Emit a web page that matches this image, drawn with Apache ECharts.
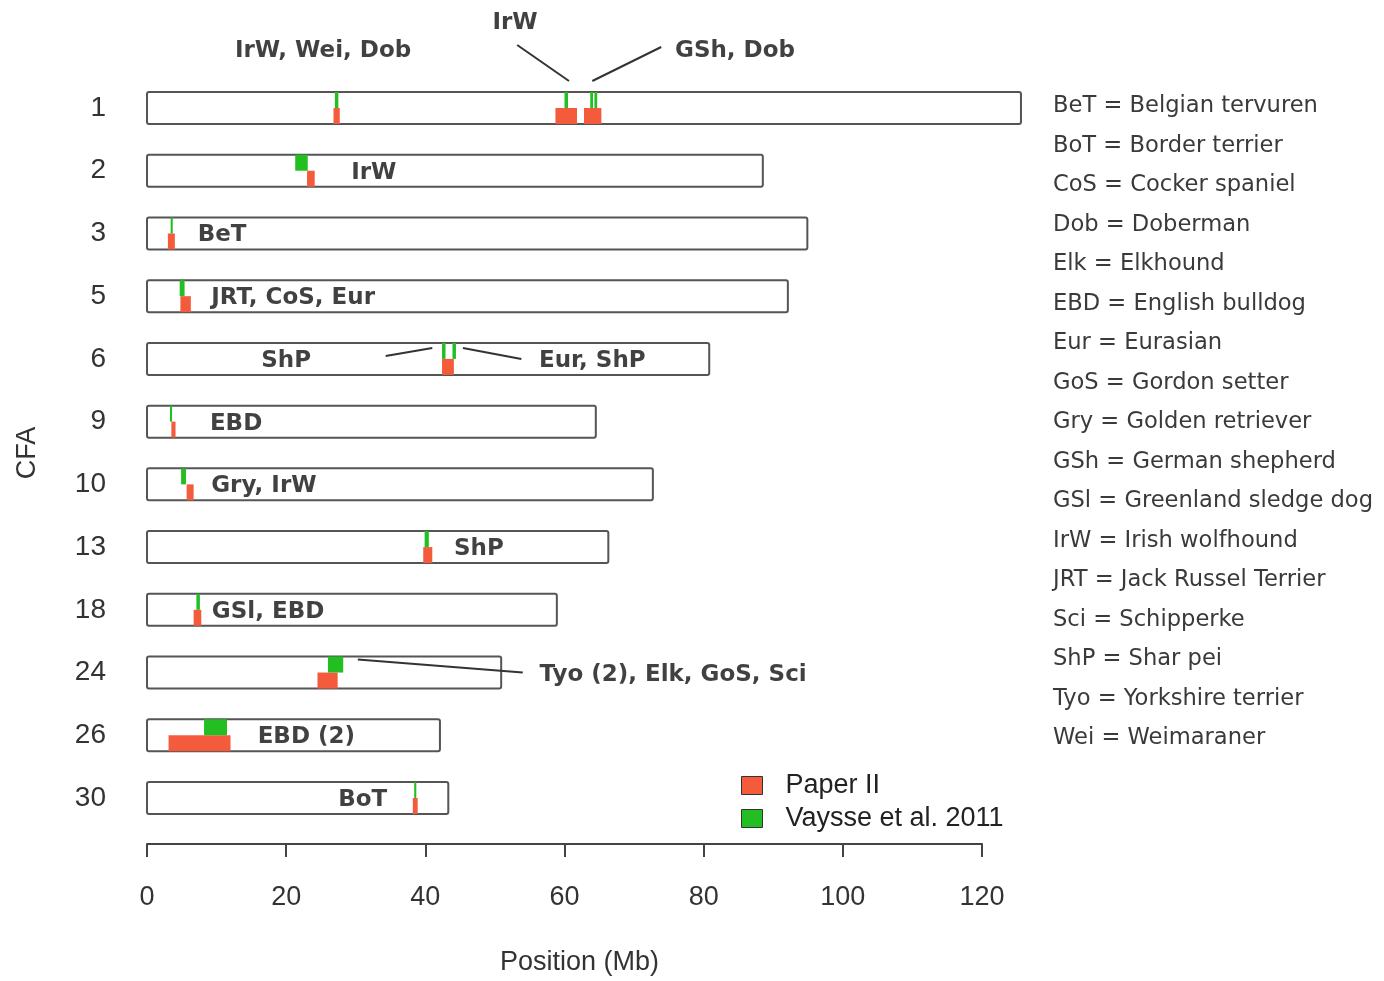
<!DOCTYPE html>
<html><head><meta charset="utf-8">
<script src="https://cdn.jsdelivr.net/npm/echarts@6/dist/echarts.min.js"></script>
<style>html,body{margin:0;padding:0;background:#fff}#c{width:1384px;height:981px}</style>
</head><body><div id="c"></div>
<script>
// ---- data ----
const chromosomes = ['1','2','3','5','6','9','10','13','18','24','26','30'];
const chromLengths = [125.6, 88.5, 94.9, 92.1, 80.8, 64.5, 72.7, 66.3, 58.9, 50.9, 42.1, 43.3];
// Paper II regions: [start Mb, end Mb, row index]
const paperII = [[26.8,27.7,0],[58.7,61.8,0],[62.8,65.3,0],[23.0,24.1,1],[3.0,4.0,2],[4.8,6.3,3],
  [42.4,44.1,4],[3.5,4.1,5],[5.7,6.7,6],[39.7,41.0,7],[6.7,7.8,8],[24.5,27.4,9],[3.1,12.0,10],[38.2,38.9,11]];
// Vaysse et al. 2011 regions: [start Mb, end Mb, row index]
const vaysse = [[27.0,27.5,0],[60.0,60.5,0],[63.7,64.1,0],[64.3,64.7,0],[21.3,23.1,1],[3.4,3.7,2],
  [4.7,5.4,3],[42.4,42.9,4],[43.9,44.4,4],[3.3,3.6,5],[4.9,5.6,6],[39.9,40.5,7],[7.1,7.6,8],
  [26.0,28.2,9],[8.2,11.5,10],[38.4,38.7,11]];
// breed annotations: [text, Mb position of text centre, row index, vertical offset px]
const annoText = ['IrW, Wei, Dob','IrW','GSh, Dob','IrW','BeT','JRT, CoS, Eur','ShP','Eur, ShP','EBD',
  'Gry, IrW','ShP','GSl, EBD','Tyo (2), Elk, GoS, Sci','EBD (2)','BoT'];
const annoPos = [[25.3,0,-59],[52.9,0,-87],[84.5,0,-59],[32.6,1,0],[10.8,2,0],[21.0,3,0],[20.0,4,0],[64.0,4,0],
  [12.8,5,0],[16.8,6,0],[47.7,7,0],[17.4,8,0],[75.6,9,0],[22.9,10,0],[31.0,11,0]];
// leader lines: [x1 Mb, row, dy1 px, x2 Mb, dy2 px]
const leaders = [[53.2,0,-63,60.65,-27],[73.9,0,-61,64.0,-27],[34.3,4,-3,41.0,-11],[45.4,4,-11,53.8,0],[30.3,9,-13,54.0,0]];
const abbreviations = ['BeT = Belgian tervuren','BoT = Border terrier','CoS = Cocker spaniel','Dob = Doberman',
  'Elk = Elkhound','EBD = English bulldog','Eur = Eurasian','GoS = Gordon setter','Gry = Golden retriever',
  'GSh = German shepherd','GSl = Greenland sledge dog','IrW = Irish wolfhound','JRT = Jack Russel Terrier',
  'Sci = Schipperke','ShP = Shar pei','Tyo = Yorkshire terrier','Wei = Weimaraner'];
const xTicks = [0,20,40,60,80,100,120];

// ---- style ----
const RED = '#F45B3C', GREEN = '#22BE22';
const HALF = 16;

const chart = echarts.init(document.getElementById('c'));

function bandRender(color, upper) {
  return function (params, api) {
    const a = api.coord([api.value(0), api.value(2)]);
    const b = api.coord([api.value(1), api.value(2)]);
    const y = upper ? a[1] - HALF : a[1];
    return {type:'rect', shape:{x:a[0], y:y, width:Math.max(b[0]-a[0],2), height:HALF},
      style:{fill:color}, z2: upper ? 3 : 2};
  };
}

const graphics = abbreviations.map((t,i)=>({
  type:'text', left:1053, top: 104 + i*39.5 - 9,
  style:{text:t, font:'22.6px "DejaVu Sans"', fill:'#3a3a3a'}
}));

chart.setOption({
  animation:false,
  backgroundColor:'#fff',
  grid:{left:147, right:402, top:108, bottom:174, containLabel:false},
  xAxis:{type:'value', min:0, max:120, interval:20, offset:46,
    axisLine:{show:true, onZero:false, lineStyle:{color:'#444', width:2}},
    axisTick:{show:true, length:13, lineStyle:{color:'#444', width:2}},
    axisLabel:{margin:40, fontSize:27, fontFamily:'Liberation Sans', color:'#333',
      formatter:(v)=> xTicks.indexOf(v)>=0 ? String(v) : ''},
    splitLine:{show:false},
    name:'Position (Mb)', nameLocation:'middle', nameGap:105,
    nameTextStyle:{fontSize:27, fontFamily:'Liberation Sans', color:'#333', padding:[0,0,0,30]}},
  yAxis:{type:'value', min:0, max:11, interval:1, inverse:true,
    axisLine:{show:false}, axisTick:{show:false}, splitLine:{show:false},
    axisLabel:{margin:41, fontSize:28, fontFamily:'Liberation Sans', color:'#333',
      formatter:(v)=> chromosomes[v] || ''},
    name:'CFA', nameLocation:'middle', nameGap:106, nameRotate:90,
    nameTextStyle:{fontSize:27, fontFamily:'Liberation Sans', color:'#333'}},
  legend:{orient:'vertical', left:741, top:772, padding:0, itemWidth:21, itemHeight:18, itemGap:6,
    icon:'rect', data:['Paper II','Vaysse et al. 2011'],
    itemStyle:{borderColor:'#333', borderWidth:1},
    textStyle:{fontSize:27, lineHeight:18, fontFamily:'Liberation Sans', color:'#222', padding:[0,0,0,18]}},
  graphic: graphics,
  series:[
    {type:'custom', name:'chromosomes', clip:false, z:1,
      data: chromLengths.map((l,i)=>[l,i]),
      renderItem:(params, api)=>{
        const a = api.coord([0, api.value(1)]);
        const b = api.coord([api.value(0), api.value(1)]);
        return {type:'rect', shape:{x:a[0], y:a[1]-HALF, width:b[0]-a[0], height:2*HALF, r:2},
          style:{fill:'#fff', stroke:'#555', lineWidth:2}};
      }},
    {type:'custom', name:'Paper II', clip:false, z:2, itemStyle:{color:RED},
      data: paperII, renderItem: bandRender(RED, false)},
    {type:'custom', name:'Vaysse et al. 2011', clip:false, z:3, itemStyle:{color:GREEN},
      data: vaysse, renderItem: bandRender(GREEN, true)},
    {type:'custom', name:'leaders', clip:false, z:4,
      data: leaders,
      renderItem:(params, api)=>{
        const p1 = api.coord([api.value(0), api.value(1)]);
        const p2 = api.coord([api.value(3), api.value(1)]);
        return {type:'line', shape:{x1:p1[0], y1:p1[1]+api.value(2), x2:p2[0], y2:p2[1]+api.value(4)},
          style:{stroke:'#333', lineWidth:2}};
      }},
    {type:'scatter', name:'annotations', symbolSize:0, z:5, silent:true,
      data: annoPos.map(p=>[p[0], p[1]]),
      label:{show:true, position:'inside', formatter:(p)=>annoText[p.dataIndex],
        fontFamily:'DejaVu Sans', fontWeight:'bold', fontSize:23, color:'#111'},
      labelLayout:(p)=>({dy: annoPos[p.dataIndex][2] + 2})}
  ]
});
</script></body></html>
